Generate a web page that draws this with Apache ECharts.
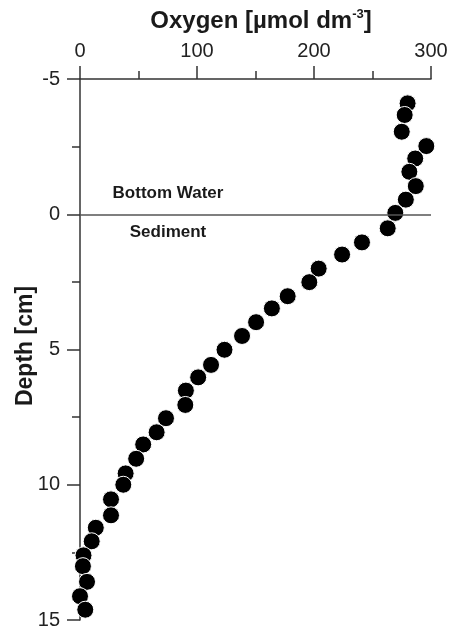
<!DOCTYPE html>
<html>
<head>
<meta charset="utf-8">
<style>
  html, body { margin: 0; padding: 0; background: #fff; }
  #chart { width: 452px; height: 634px; }
</style>
<script src="https://cdn.jsdelivr.net/npm/echarts@6/dist/echarts.min.js"></script>
</head>
<body>
<div id="chart"></div>
<script>
// Oxygen profile across the sediment–water interface
const depthCm = [-4.1, -3.67, -3.05, -2.52, -2.06, -1.57, -1.04, -0.54, -0.05, 0.52,
                 1.04, 1.49, 2.01, 2.51, 3.03, 3.48, 3.99, 4.5, 5.01, 5.57,
                 6.03, 6.52, 7.05, 7.54, 8.06, 8.51, 9.04, 9.58, 10.0, 10.54,
                 11.13, 11.59, 12.09, 12.61, 13.01, 13.59, 14.12, 14.62];
const oxygen = [280, 277.5, 275, 296, 286.5, 281.5, 287, 278.5, 269.5, 263,
                241, 224, 204, 196, 177.5, 164, 150.5, 138.5, 123.5, 112,
                101, 90.5, 90, 73.5, 65.5, 54, 48, 39, 37, 26.5,
                26.5, 13.5, 10, 3, 2.5, 6, 0, 4.5];
const oxygenTicks = [0, 100, 200, 300];
const depthTicks = [-5, 0, 5, 10, 15];
const interfaceDepth = 0;

const FONT = '"Liberation Sans", Arial, Helvetica, sans-serif';
const AXIS_COLOR = '#333';
const axisLine = { show: true, onZero: false, lineStyle: { color: AXIS_COLOR, width: 1.5 } };

const chart = echarts.init(document.getElementById('chart'));
chart.setOption({
  animation: false,
  backgroundColor: '#fff',
  grid: { left: 80, right: 21, top: 79, bottom: 14 },
  xAxis: {
    type: 'value',
    position: 'top',
    min: oxygenTicks[0],
    max: oxygenTicks[oxygenTicks.length - 1],
    interval: oxygenTicks[1] - oxygenTicks[0],
    axisLine: axisLine,
    axisTick: { show: true, length: 13, lineStyle: { color: AXIS_COLOR, width: 1.5 } },
    minorTick: { show: true, splitNumber: 2, length: 8, lineStyle: { color: AXIS_COLOR, width: 1.5 } },
    splitLine: { show: false },
    axisLabel: { fontSize: 20, fontFamily: FONT, color: '#222', margin: 18 }
  },
  yAxis: {
    type: 'value',
    inverse: true,
    min: depthTicks[0],
    max: depthTicks[depthTicks.length - 1],
    interval: depthTicks[1] - depthTicks[0],
    axisLine: axisLine,
    axisTick: { show: true, length: 13, lineStyle: { color: AXIS_COLOR, width: 1.5 } },
    minorTick: { show: true, splitNumber: 2, length: 8, lineStyle: { color: AXIS_COLOR, width: 1.5 } },
    splitLine: { show: false },
    axisLabel: { fontSize: 20, fontFamily: FONT, color: '#222', margin: 20 }
  },
  series: [
    {
      // sediment–water interface line, kept beneath the points
      type: 'scatter',
      z: 1,
      data: [],
      silent: true,
      markLine: {
        silent: true,
        symbol: 'none',
        label: { show: false },
        lineStyle: { color: '#555', width: 1.5, type: 'solid' },
        data: [{ yAxis: interfaceDepth }]
      }
    },
    {
      type: 'scatter',
      z: 3,
      symbol: 'circle',
      symbolSize: 17,
      itemStyle: { color: '#000', borderColor: '#fff', borderWidth: 1, opacity: 1 },
      data: depthCm.map((d, i) => [oxygen[i], d])
    }
  ],
  graphic: [
    {
      type: 'text',
      x: 261, y: 21,
      style: {
        text: '{a|Oxygen [µmol dm}{s|-3}{a|]}',
        align: 'center',
        verticalAlign: 'middle',
        rich: {
          a: { fontSize: 24, fontWeight: 'bold', fontFamily: FONT, fill: '#1a1a1a', lineHeight: 26 },
          s: { fontSize: 13, fontWeight: 'bold', fontFamily: FONT, fill: '#1a1a1a', verticalAlign: 'top', lineHeight: 26 }
        }
      }
    },
    {
      type: 'text',
      x: 26, y: 346,
      rotation: Math.PI / 2,
      style: {
        text: 'Depth [cm]',
        align: 'center',
        verticalAlign: 'middle',
        fontSize: 23, fontWeight: 'bold', fontFamily: FONT, fill: '#1a1a1a'
      }
    },
    {
      type: 'text',
      x: 168, y: 193,
      style: {
        text: 'Bottom Water',
        align: 'center', verticalAlign: 'middle',
        fontSize: 17, fontWeight: 'bold', fontFamily: FONT, fill: '#1a1a1a'
      }
    },
    {
      type: 'text',
      x: 168, y: 232,
      style: {
        text: 'Sediment',
        align: 'center', verticalAlign: 'middle',
        fontSize: 17, fontWeight: 'bold', fontFamily: FONT, fill: '#1a1a1a'
      }
    }
  ]
});
</script>
</body>
</html>
